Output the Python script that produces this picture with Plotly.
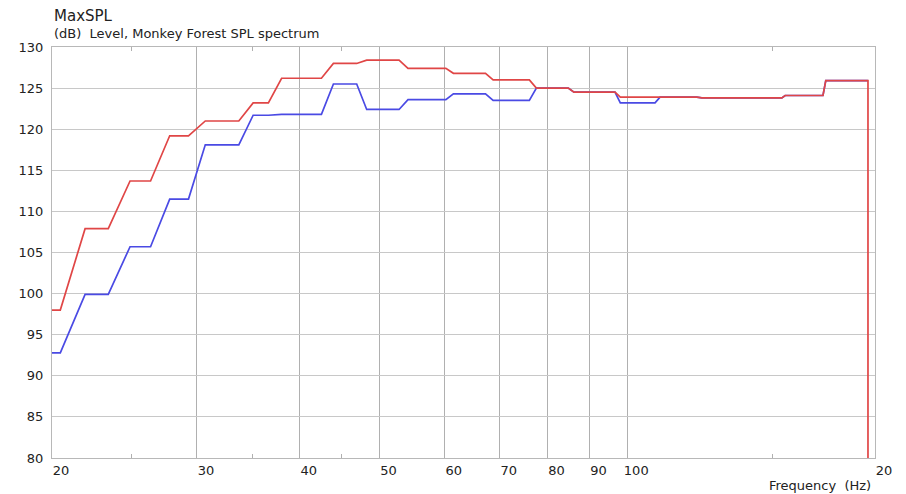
import plotly.graph_objects as go

# ---- data (vertices of the spectra, Hz / dB) ----
freq_red = [20.0, 20.47, 21.94, 23.41, 24.88, 26.35, 27.80, 29.30, 30.71, 33.73,
            35.11, 36.64, 38.02, 42.50, 43.95, 46.91, 48.24, 52.81, 54.15, 60.20,
            61.48, 67.26, 68.71, 76.04, 77.55, 84.79, 86.15, 96.63, 98.08, 121.49,
            123.21, 154.12, 155.55, 172.91, 174.27, 196.11, 196.11]
level_red = [98.0, 98.0, 107.9, 107.9, 113.7, 113.7, 119.2, 119.2, 121.0, 121.0,
             123.2, 123.2, 126.2, 126.2, 128.0, 128.0, 128.4, 128.4, 127.4, 127.4,
             126.8, 126.8, 126.0, 126.0, 125.0, 125.0, 124.5, 124.5, 123.9, 123.9,
             123.8, 123.8, 124.1, 124.1, 125.9, 125.9, 80.0]

freq_blue = [20.0, 20.47, 21.94, 23.41, 24.88, 26.35, 27.80, 29.30, 30.71, 33.73,
             35.11, 36.64, 38.02, 42.50, 43.95, 46.91, 48.24, 52.81, 54.15, 60.20,
             61.48, 67.26, 68.71, 76.04, 77.55, 84.79, 86.15, 96.63, 98.08, 108.08,
             109.61, 121.49, 123.21, 154.12, 155.55, 172.91, 174.27, 196.11]
level_blue = [92.8, 92.8, 99.9, 99.9, 105.7, 105.7, 111.5, 111.5, 118.1, 118.1,
              121.7, 121.7, 121.8, 121.8, 125.5, 125.5, 122.4, 122.4, 123.6, 123.6,
              124.3, 124.3, 123.5, 123.5, 125.0, 125.0, 124.5, 124.5, 123.2, 123.2,
              123.9, 123.9, 123.8, 123.8, 124.1, 124.1, 125.9, 125.9]

x_tickvals = [20, 30, 40, 50, 60, 70, 80, 90, 100, 200]
x_ticktext = ["20", "30", "40", "50", "60", "70", "80", "90", "100", "20"]
x_minor = [25, 35, 45, 150]
y_tickvals = [80, 85, 90, 95, 100, 105, 110, 115, 120, 125, 130]

FONT = "DejaVu Sans, Verdana, sans-serif"

fig = go.Figure()
fig.add_trace(go.Scatter(x=freq_blue, y=level_blue, mode="lines",
                         line=dict(color="#4a4ae4", width=1.7), showlegend=False))
fig.add_trace(go.Scatter(x=freq_red, y=level_red, mode="lines",
                         line=dict(color="#e04646", width=1.7), showlegend=False))

fig.update_layout(
    width=898, height=486,
    margin=dict(l=44, r=31, t=39, b=36),
    paper_bgcolor="white", plot_bgcolor="white",
    font=dict(family=FONT, size=13, color="#222222"),
    showlegend=False,
    xaxis=dict(
        type="log", range=[1.30103, 2.30103],
        tickmode="array", tickvals=x_tickvals, ticktext=x_ticktext,
        ticklabelshift=9, ticklabelstandoff=0,
        showgrid=True, gridcolor="#b0b0b0", gridwidth=1,
        showline=True, linecolor="#b8b8b8", linewidth=1, mirror="allticks",
        ticks="inside", ticklen=4, tickcolor="#b0b0b0",
        minor=dict(tickmode="array", tickvals=x_minor, ticks="inside",
                   ticklen=4, tickcolor="#b0b0b0", showgrid=False),
        zeroline=False, tickfont=dict(size=13, family=FONT),
    ),
    yaxis=dict(
        range=[80, 130], tickmode="array", tickvals=y_tickvals,
        showgrid=True, gridcolor="#c8c8c8", gridwidth=1,
        showline=True, linecolor="#b8b8b8", linewidth=1, mirror=True,
        ticks="", ticklabelstandoff=5, zeroline=False,
        tickfont=dict(size=13, family=FONT),
    ),
    annotations=[
        dict(text="MaxSPL", x=0, y=1, xref="paper", yref="paper",
             xanchor="left", yanchor="middle", yshift=31, showarrow=False,
             font=dict(size=15, family=FONT, color="#222222")),
        dict(text="(dB)\u00a0\u00a0Level, Monkey Forest SPL spectrum", x=0, y=1,
             xref="paper", yref="paper", xanchor="left", yanchor="middle",
             yshift=14, showarrow=False,
             font=dict(size=13, family=FONT, color="#222222")),
        dict(text="Frequency\u00a0\u00a0(Hz)", x=1, y=0, xref="paper", yref="paper",
             xanchor="right", yanchor="middle", yshift=-27, xshift=-2,
             showarrow=False, font=dict(size=13, family=FONT, color="#222222")),
    ],
)

fig.write_html("out.html")
